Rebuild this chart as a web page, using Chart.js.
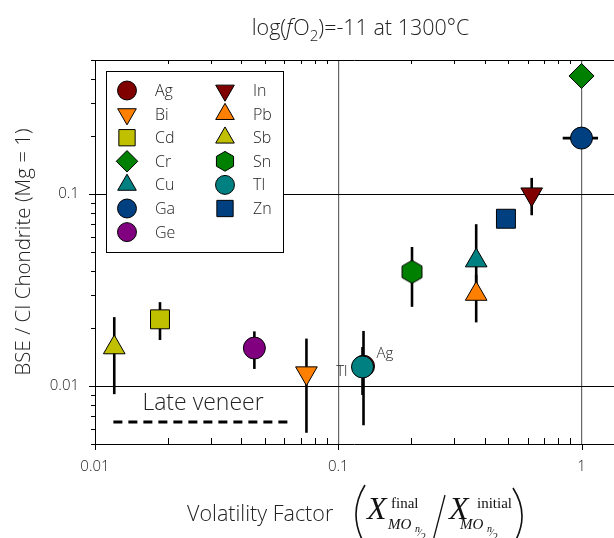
<!DOCTYPE html>
<html><head><meta charset="utf-8">
<script src="https://cdn.jsdelivr.net/npm/chart.js@4.4.1/dist/chart.umd.min.js"></script>
<style>html,body{margin:0;padding:0;background:#fff}#wrap{width:614px;height:538px;position:relative}</style>
</head><body><div id="wrap"><canvas id="c" width="614" height="538"></canvas></div>
<script>
// ---- data ----
const elements = ['Ag','Bi','Cd','Cr','Cu','Ga','Ge','In','Pb','Sb','Sn','Tl','Zn'];
const volatilityFactor = [0.127, 0.074, 0.0185, 1.0, 0.369, 1.0, 0.0452, 0.624, 0.369, 0.012, 0.201, 0.1258, 0.489];
const bseOverCI = [0.0127, 0.0117, 0.0223, 0.413, 0.0451, 0.196, 0.0158, 0.100, 0.0302, 0.0159, 0.0394, 0.0126, 0.0745];
const bseLow  = [0.00626, 0.00572, 0.0174, null, 0.032, null, 0.0123, 0.0777, 0.0215, 0.00909, 0.0259, 0.0090, null];
const bseHigh = [0.0194, 0.0177, 0.0274, null, 0.0698, null, 0.0193, 0.1216, 0.038, 0.0229, 0.0531, 0.0160, null];
const volLow  = [null, null, null, null, null, 0.837, null, null, null, null, null, null, null];
const volHigh = [null, null, null, null, null, 1.169, null, null, null, null, null, null, null];
const lateVeneerX = [0.0119, 0.0653];
const lateVeneerY = [0.0065, 0.0065];
const lateVeneerLabel = 'Late veneer';
const lateVeneerLabelAt = [0.0278, 0.0081];
const xMajorTicks = [0.01, 0.1, 1];
const yMajorTicks = [0.01, 0.1];
const xRange = [0.01, 1.36];
const yRange = [0.005, 0.5];
const pointLabels = [{text:'Tl', el:'Tl', side:'left'}, {text:'Ag', el:'Ag', side:'right'}];

// ---- styles ----
const colors = {Ag:'#800000',Bi:'#ff8000',Cd:'#c0c000',Cr:'#008000',Cu:'#008080',Ga:'#004080',Ge:'#800080',
  In:'#800000',Pb:'#ff8000',Sb:'#c0c000',Sn:'#008000',Tl:'#008080',Zn:'#004080'};
const markers = {Ag:'circle',Bi:'triDown',Cd:'square',Cr:'diamond',Cu:'triUp',Ga:'circle',Ge:'circle',
  In:'triDown',Pb:'triUp',Sb:'triUp',Sn:'hex',Tl:'circle',Zn:'square'};
const SANS = "'Open Sans', 'DejaVu Sans', sans-serif";
const SERIF = "'Liberation Serif', 'DejaVu Serif', serif";
const TXT = '#222';

function hexPath(ctx, x, y, r) {
  ctx.beginPath();
  for (let k = 0; k < 6; k++) {
    const a = Math.PI / 3 * k - Math.PI / 2;
    const px = x + r * Math.cos(a), py = y + r * Math.sin(a);
    if (k === 0) ctx.moveTo(px, py); else ctx.lineTo(px, py);
  }
  ctx.closePath();
}
function hexImage(color, r) {
  const c = document.createElement('canvas');
  const w = Math.ceil(r * Math.sqrt(3)) + 2, h = Math.ceil(2 * r) + 2;
  c.width = w; c.height = h;
  const g = c.getContext('2d');
  hexPath(g, w / 2, h / 2, r);
  g.fillStyle = color; g.fill();
  g.lineWidth = 1; g.strokeStyle = '#000'; g.stroke();
  return c;
}
function styleFor(m, color, s) {
  switch (m) {
    case 'circle': return {pointStyle:'circle', radius:11*s, rotation:0};
    case 'triUp': return {pointStyle:'triangle', radius:12.5*s, rotation:0};
    case 'triDown': return {pointStyle:'triangle', radius:12.5*s, rotation:180};
    case 'square': return {pointStyle:'rect', radius:13.4*s, rotation:0};
    case 'diamond': return {pointStyle:'rectRot', radius:12.5*s, rotation:0};
    case 'hex': return {pointStyle:hexImage(color, 11.5*s), radius:11.5*s, rotation:0};
  }
}

const datasets = elements.map((el, i) => {
  const st = styleFor(markers[el], colors[el], 1);
  return {
    label: el,
    data: [{x: volatilityFactor[i], y: bseOverCI[i]}],
    pointStyle: st.pointStyle, pointRadius: st.radius, pointRotation: st.rotation,
    backgroundColor: colors[el], borderColor: '#000', borderWidth: 1,
    order: elements.length - i + 1
  };
});
datasets.push({
  label: lateVeneerLabel,
  data: lateVeneerX.map((x, i) => ({x, y: lateVeneerY[i]})),
  showLine: true, borderColor: '#000', borderWidth: 3, borderDash: [9, 6],
  pointRadius: 0, order: 100
});

function logVals(min, max) {
  const out = [];
  for (let e = Math.floor(Math.log10(min)); e <= Math.ceil(Math.log10(max)); e++) {
    for (let k = 1; k <= 9; k++) {
      const v = k * Math.pow(10, e);
      if (v >= min * 0.9999 && v <= max * 1.0001) out.push({v, major: k === 1});
    }
  }
  return out;
}

const errorBars = {
  id: 'errorBars',
  beforeDatasetsDraw(chart) {
    const {ctx, chartArea: a, scales: {x, y}} = chart;
    ctx.save();
    ctx.beginPath(); ctx.rect(a.left, a.top, a.right - a.left, a.bottom - a.top); ctx.clip();
    ctx.strokeStyle = '#000'; ctx.lineWidth = 2.6; ctx.lineCap = 'butt';
    elements.forEach((el, i) => {
      const px = x.getPixelForValue(volatilityFactor[i]);
      const py = y.getPixelForValue(bseOverCI[i]);
      if (bseLow[i] != null) {
        ctx.beginPath();
        ctx.moveTo(px, y.getPixelForValue(bseLow[i]));
        ctx.lineTo(px, y.getPixelForValue(bseHigh[i]));
        ctx.stroke();
      }
      if (volLow[i] != null) {
        ctx.beginPath();
        ctx.moveTo(x.getPixelForValue(volLow[i]), py);
        ctx.lineTo(x.getPixelForValue(volHigh[i]), py);
        ctx.stroke();
      }
    });
    ctx.restore();
  }
};

function drawMarker(ctx, m, color, cx, cy, s) {
  ctx.save();
  ctx.fillStyle = color; ctx.strokeStyle = '#000'; ctx.lineWidth = 1;
  ctx.beginPath();
  if (m === 'circle') { ctx.arc(cx, cy, 11 * s, 0, Math.PI * 2); }
  else if (m === 'triUp' || m === 'triDown') {
    const r = 12.5 * s; const rot = m === 'triDown' ? Math.PI : 0;
    for (let k = 0; k < 3; k++) {
      const a = rot + k * 2 * Math.PI / 3;
      const px = cx + Math.sin(a) * r, py = cy - Math.cos(a) * r;
      if (k === 0) ctx.moveTo(px, py); else ctx.lineTo(px, py);
    }
    ctx.closePath();
  } else if (m === 'square') { const h = 13.4 * s * Math.SQRT1_2; ctx.rect(cx - h, cy - h, 2 * h, 2 * h); }
  else if (m === 'diamond') { const r = 12.5 * s; ctx.moveTo(cx, cy - r); ctx.lineTo(cx + r, cy); ctx.lineTo(cx, cy + r); ctx.lineTo(cx - r, cy); ctx.closePath(); }
  else if (m === 'hex') { hexPath(ctx, cx, cy, 11.5 * s); }
  ctx.fill(); ctx.stroke();
  ctx.restore();
}

function drawRuns(ctx, runs, x0, baseline) {
  let x = x0;
  runs.forEach(r => {
    ctx.font = r.font;
    ctx.fillText(r.t, x + (r.dx || 0), baseline + (r.dy || 0));
    x += ctx.measureText(r.t).width + (r.dx || 0) + (r.after || 0);
  });
  return x;
}
function runsWidth(ctx, runs) {
  let w = 0;
  runs.forEach(r => { ctx.font = r.font; w += ctx.measureText(r.t).width + (r.dx || 0) + (r.after || 0); });
  return w;
}

const decor = {
  id: 'decor',
  afterDraw(chart) {
    const {ctx, chartArea: a, scales: {x, y}} = chart;
    ctx.save();
    // frame: top line
    ctx.strokeStyle = '#000'; ctx.lineWidth = 1;
    ctx.beginPath(); ctx.moveTo(a.left, a.top + 0.5); ctx.lineTo(a.right, a.top + 0.5); ctx.stroke();
    // y ticks (outward)
    logVals(yRange[0], yRange[1]).forEach(t => {
      const py = Math.round(y.getPixelForValue(t.v)) + 0.5;
      const len = t.major ? 6 : 4;
      ctx.beginPath(); ctx.moveTo(a.left - len, py); ctx.lineTo(a.left, py); ctx.stroke();
    });
    // x ticks: majors outward at bottom, minors inward at bottom and top
    logVals(xRange[0], xRange[1]).forEach(t => {
      const px = Math.round(x.getPixelForValue(t.v)) + 0.5;
      ctx.beginPath();
      if (t.major) { ctx.moveTo(px, a.bottom); ctx.lineTo(px, a.bottom + 6); }
      else {
        ctx.moveTo(px, a.bottom); ctx.lineTo(px, a.bottom - 6);
        ctx.moveTo(px, a.top); ctx.lineTo(px, a.top + 4);
      }
      ctx.stroke();
    });
    // legend
    const lx = a.left + 11, ly = a.top + 11, lw = 177, lh = 181;
    ctx.fillStyle = '#fff'; ctx.fillRect(lx, ly, lw, lh);
    ctx.strokeStyle = '#000'; ctx.lineWidth = 1; ctx.strokeRect(lx + 0.5, ly + 0.5, lw, lh);
    const perCol = 7;
    ctx.textBaseline = 'middle'; ctx.textAlign = 'left';
    elements.forEach((el, i) => {
      const col = Math.floor(i / perCol), row = i % perCol;
      const mx = lx + 21 + col * 98, my = ly + 19.5 + row * 23.6;
      drawMarker(ctx, markers[el], colors[el], mx, my, 0.86);
      ctx.font = '300 16px ' + SANS; ctx.fillStyle = TXT;
      ctx.fillText(el, mx + 28, my + 1);
    });
    // point labels
    ctx.font = '300 15px ' + SANS; ctx.fillStyle = TXT; ctx.textBaseline = 'middle';
    pointLabels.forEach(p => {
      const i = elements.indexOf(p.el);
      const px = x.getPixelForValue(volatilityFactor[i]), py = y.getPixelForValue(bseOverCI[i]);
      if (p.side === 'left') { ctx.textAlign = 'right'; ctx.fillText(p.text, px - 15, py + 5); }
      else { ctx.textAlign = 'left'; ctx.fillText(p.text, px + 13, py - 13); }
    });
    // late veneer label
    ctx.font = '300 23px ' + SANS; ctx.textAlign = 'center'; ctx.textBaseline = 'middle';
    ctx.fillText(lateVeneerLabel, x.getPixelForValue(lateVeneerLabelAt[0]), y.getPixelForValue(lateVeneerLabelAt[1]));
    // title
    ctx.textAlign = 'left'; ctx.textBaseline = 'alphabetic'; ctx.fillStyle = TXT;
    const f = '300 21.5px ' + SANS;
    const titleRuns = [
      {t:'log(', font:f}, {t:'f', font:'italic 300 21.5px ' + SANS, after:1}, {t:'O', font:f},
      {t:'2', font:'300 15px ' + SANS, dy:6}, {t:')=-11 at 1300°C', font:f}
    ];
    const tw = runsWidth(ctx, titleRuns);
    drawRuns(ctx, titleRuns, (a.left + a.right) / 2 - tw / 2 + 6, 35);
    // x axis title
    ctx.font = '300 21.5px ' + SANS;
    ctx.fillText('Volatility Factor', 187, 521);
    // parentheses and slash as thin strokes
    ctx.strokeStyle = '#111'; ctx.lineWidth = 1.6;
    ctx.beginPath(); ctx.moveTo(365, 485); ctx.quadraticCurveTo(347, 514, 365, 545); ctx.stroke();
    ctx.beginPath(); ctx.moveTo(513, 488); ctx.quadraticCurveTo(531, 516, 513, 545); ctx.stroke();
    ctx.lineWidth = 1.3;
    ctx.beginPath(); ctx.moveTo(445, 495); ctx.lineTo(432, 545); ctx.stroke();
    ctx.fillStyle = '#111';
    ctx.font = 'italic 32px ' + SERIF; ctx.fillText('X', 367, 519);
    ctx.font = '15px ' + SERIF; ctx.fillText('final', 391, 508);
    ctx.font = 'italic 15px ' + SERIF; ctx.fillText('MO', 388, 529);
    ctx.font = 'italic 10px ' + SERIF; ctx.fillText('n', 415, 532);
    ctx.font = '10px ' + SERIF; ctx.fillText('⁄', 419, 536); ctx.fillText('2', 421, 540);
    ctx.font = 'italic 32px ' + SERIF; ctx.fillText('X', 449, 519);
    ctx.font = '15px ' + SERIF; ctx.fillText('initial', 477, 508);
    ctx.font = 'italic 15px ' + SERIF; ctx.fillText('MO', 460, 529);
    ctx.font = 'italic 10px ' + SERIF; ctx.fillText('n', 487, 532);
    ctx.font = '10px ' + SERIF; ctx.fillText('⁄', 491, 536); ctx.fillText('2', 493, 540);
    ctx.restore();
  }
};

new Chart(document.getElementById('c'), {
  type: 'scatter',
  data: {datasets},
  options: {
    responsive: false, animation: false, devicePixelRatio: 1,
    layout: {padding: {top: 60, right: 0, left: 0, bottom: 0}, autoPadding: false},
    plugins: {legend: {display: false}, tooltip: {enabled: false}, title: {display: false}},
    scales: {
      x: {
        type: 'logarithmic', min: xRange[0], max: xRange[1],
        afterFit: s => { s.height = 94; s.paddingRight = 0; s.paddingLeft = 0; },
        border: {display: true, color: '#000', width: 1},
        grid: {
          color: c => (c.tick && xMajorTicks.some(v => Math.abs(v - c.tick.value) < 1e-9) && c.tick.value > xRange[0]) ? '#666' : 'rgba(0,0,0,0)',
          lineWidth: 1.2, drawTicks: true, tickLength: 6, tickColor: 'rgba(0,0,0,0)'
        },
        ticks: {
          autoSkip: false, maxRotation: 0, padding: 8, color: TXT,
          font: {family: SANS, size: 15, weight: 300},
          callback: v => xMajorTicks.some(m => Math.abs(m - v) < 1e-9) ? String(v) : ''
        }
      },
      y: {
        type: 'logarithmic', min: yRange[0], max: yRange[1],
        afterFit: s => { s.width = 95; s.paddingTop = 0; s.paddingBottom = 0; },
        border: {display: true, color: '#000', width: 1},
        grid: {
          color: c => (c.tick && yMajorTicks.some(v => Math.abs(v - c.tick.value) < 1e-9)) ? '#000' : 'rgba(0,0,0,0)',
          lineWidth: 1, drawTicks: true, tickLength: 6, tickColor: 'rgba(0,0,0,0)'
        },
        ticks: {
          autoSkip: false, padding: 10, color: TXT,
          font: {family: SANS, size: 15, weight: 300},
          callback: v => yMajorTicks.some(m => Math.abs(m - v) < 1e-9) ? String(v) : ''
        },
        title: {
          display: true, text: 'BSE / CI Chondrite (Mg = 1)', color: TXT,
          font: {family: SANS, size: 20.5, weight: 300}, padding: {top: 12, bottom: 0}
        }
      }
    }
  },
  plugins: [errorBars, decor]
});
</script>
</body></html>
